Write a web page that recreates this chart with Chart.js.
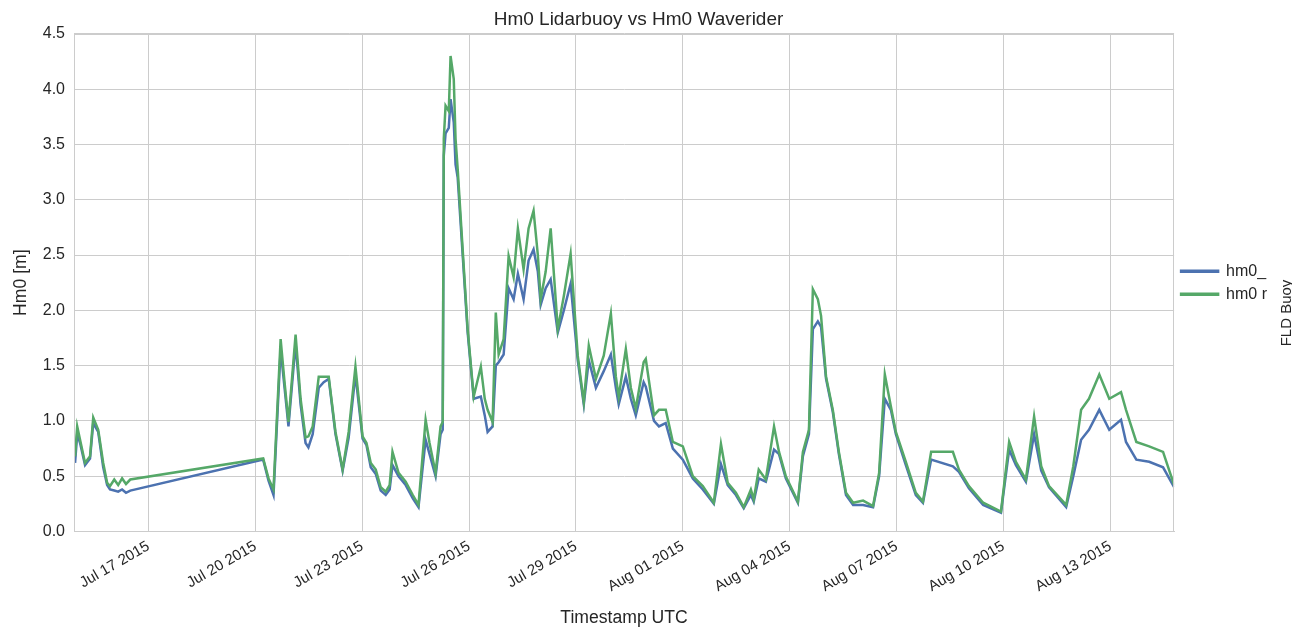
<!DOCTYPE html>
<html>
<head>
<meta charset="utf-8">
<title>Hm0 Lidarbuoy vs Hm0 Waverider</title>
<script src="https://cdn.jsdelivr.net/npm/chart.js@4.4.1/dist/chart.umd.min.js"></script>
<style>
  html, body { margin: 0; padding: 0; background: #fff; }
  #wrap { width: 1292px; height: 629px; position: relative; }
</style>
</head>
<body>
<div id="wrap"><canvas id="line-chart"></canvas></div>
<script>
// time in days after 2015-07-14 00:00 UTC
let timeDays = [0.94, 1.00, 1.08, 1.22, 1.36, 1.45, 1.59, 1.73, 1.84, 1.92, 2.04, 2.15, 2.26, 2.37, 2.49,
  6.22, 6.37, 6.51, 6.71, 6.82, 6.93, 7.13, 7.27, 7.41, 7.49, 7.61, 7.78, 7.92, 8.06, 8.25, 8.45, 8.62, 8.81,
  9.01, 9.12, 9.24, 9.38, 9.52, 9.66, 9.77, 9.85, 10.02, 10.22, 10.42, 10.58, 10.78, 10.89, 11.06, 11.20, 11.26,
  11.29, 11.34, 11.43, 11.48, 11.57, 11.62, 11.68, 11.82, 11.96, 12.13, 12.33, 12.44, 12.52, 12.66, 12.75, 12.83,
  12.97, 13.11, 13.25, 13.37, 13.53, 13.67, 13.81, 13.93, 14.01, 14.15, 14.29, 14.49, 14.66, 14.85, 15.05, 15.22,
  15.36, 15.56, 15.78, 15.98, 16.12, 16.20, 16.40, 16.54, 16.68, 16.90, 16.96, 17.19, 17.33, 17.52, 17.72, 18.00,
  18.28, 18.56, 18.87, 19.07, 19.26, 19.49, 19.71, 19.91, 19.99, 20.13, 20.33, 20.56, 20.70, 20.89, 21.23, 21.37,
  21.54, 21.65, 21.79, 21.88, 22.02, 22.21, 22.38, 22.58, 22.78, 23.06, 23.34, 23.51, 23.67, 23.84, 23.98, 24.26,
  24.54, 24.74, 24.97, 25.58, 25.75, 26.03, 26.43, 26.93, 27.16, 27.35, 27.63, 27.86, 28.06, 28.28, 28.76, 28.96,
  29.18, 29.40, 29.69, 29.97, 30.30, 30.44, 30.73, 31.09, 31.48, 31.79];

let hm0Lidar = [0.62, 0.88, 0.80, 0.60, 0.66, 0.98, 0.90, 0.58, 0.42, 0.38, 0.37, 0.36, 0.38, 0.35, 0.37,
  0.65, 0.46, 0.33, 1.65, 1.30, 0.95, 1.70, 1.15, 0.80, 0.76, 0.88, 1.30, 1.35, 1.38, 0.88, 0.55, 0.85, 1.42,
  0.84, 0.78, 0.58, 0.52, 0.37, 0.33, 0.38, 0.60, 0.50, 0.42, 0.30, 0.22, 0.83, 0.70, 0.50, 0.88, 0.92,
  3.40, 3.60, 3.65, 3.91, 3.70, 3.32, 3.20, 2.50, 1.80, 1.20, 1.22, 1.05, 0.90, 0.95, 1.50, 1.53,
  1.60, 2.20, 2.10, 2.33, 2.10, 2.45, 2.55, 2.35, 2.05, 2.20, 2.28, 1.80, 2.00, 2.24, 1.55, 1.15,
  1.55, 1.30, 1.45, 1.60, 1.30, 1.15, 1.40, 1.20, 1.05, 1.35, 1.31, 1.00, 0.95, 0.98, 0.75, 0.65,
  0.48, 0.38, 0.25, 0.61, 0.42, 0.33, 0.21, 0.33, 0.27, 0.48, 0.45, 0.74, 0.70, 0.48, 0.26, 0.68,
  0.88, 1.83, 1.90, 1.85, 1.38, 1.08, 0.70, 0.33, 0.24, 0.24, 0.22, 0.50, 1.20, 1.10, 0.88, 0.60,
  0.33, 0.26, 0.65, 0.59, 0.54, 0.39, 0.24, 0.17, 0.74, 0.60, 0.45, 0.88, 0.55, 0.40, 0.22, 0.50,
  0.83, 0.92, 1.10, 0.92, 1.01, 0.81, 0.65, 0.63, 0.58, 0.40];

let hm0Waverider = [0.68, 0.95, 0.83, 0.62, 0.68, 1.03, 0.92, 0.62, 0.44, 0.41, 0.47, 0.42, 0.48, 0.43, 0.47,
  0.66, 0.48, 0.38, 1.74, 1.35, 0.99, 1.78, 1.20, 0.85, 0.86, 0.95, 1.40, 1.40, 1.40, 0.90, 0.56, 0.90, 1.49,
  0.86, 0.80, 0.62, 0.56, 0.40, 0.36, 0.42, 0.72, 0.53, 0.45, 0.33, 0.24, 1.01, 0.80, 0.53, 0.95, 0.99,
  3.55, 3.85, 3.80, 4.30, 4.09, 3.55, 3.28, 2.55, 1.83, 1.22, 1.49, 1.20, 1.10, 0.99, 1.98, 1.60,
  1.74, 2.49, 2.30, 2.74, 2.37, 2.74, 2.90, 2.50, 2.10, 2.35, 2.74, 1.83, 2.13, 2.51, 1.59, 1.17,
  1.68, 1.38, 1.59, 1.97, 1.40, 1.22, 1.65, 1.30, 1.11, 1.53, 1.56, 1.05, 1.10, 1.10, 0.81, 0.77,
  0.50, 0.41, 0.26, 0.79, 0.44, 0.35, 0.22, 0.38, 0.29, 0.56, 0.47, 0.95, 0.72, 0.50, 0.27, 0.72,
  0.92, 2.19, 2.10, 1.95, 1.40, 1.10, 0.72, 0.35, 0.26, 0.28, 0.23, 0.53, 1.42, 1.13, 0.90, 0.63,
  0.35, 0.27, 0.72, 0.72, 0.56, 0.41, 0.26, 0.18, 0.81, 0.63, 0.47, 1.04, 0.59, 0.41, 0.24, 0.59,
  1.10, 1.20, 1.42, 1.20, 1.26, 1.10, 0.81, 0.77, 0.72, 0.42];

let tickDays = [3, 6, 9, 12, 15, 18, 21, 24, 27, 30];
let tickLabels = ['Jul 17 2015', 'Jul 20 2015', 'Jul 23 2015', 'Jul 26 2015', 'Jul 29 2015',
  'Aug 01 2015', 'Aug 04 2015', 'Aug 07 2015', 'Aug 10 2015', 'Aug 13 2015'];

let lidarPoints = [];
let waveriderPoints = [];
timeDays.forEach(function (t, i) {
    lidarPoints.push({x: t, y: hm0Lidar[i]});
    waveriderPoints.push({x: t, y: hm0Waverider[i]});
});

let textColor = '#262626';
let gridColor = '#cccccc';
Chart.defaults.font.family = '"Liberation Sans", Arial, sans-serif';
Chart.defaults.color = textColor;

// box around the axes and the side label
let frame = {
    id: 'frame',
    afterDraw: function (chart) {
        let ctx = chart.ctx;
        let a = chart.chartArea;
        ctx.save();
        ctx.strokeStyle = gridColor;
        ctx.lineWidth = 1;
        ctx.strokeRect(Math.round(a.left) + 0.5, Math.round(a.top) + 0.5,
            Math.round(a.right - a.left) - 1, Math.round(a.bottom - a.top) - 1);
        ctx.fillStyle = textColor;
        ctx.font = '15px "Liberation Sans", Arial, sans-serif';
        ctx.translate(1291, 313);
        ctx.rotate(-Math.PI / 2);
        ctx.textAlign = 'center';
        ctx.fillText('FLD Buoy', 0, 0);
        ctx.restore();
    }
};

new Chart(document.getElementById('line-chart'), {
    type: 'line',
    data: {
        datasets: [{
            label: 'hm0_',
            data: lidarPoints,
            borderColor: '#4C72B0',
            backgroundColor: '#4C72B0',
            borderWidth: 2.5,
            pointRadius: 0,
            fill: false,
            order: 1
        }, {
            label: 'hm0 r',
            data: waveriderPoints,
            borderColor: '#55A868',
            backgroundColor: '#55A868',
            borderWidth: 2.5,
            pointRadius: 0,
            fill: false,
            order: 0
        }]
    },
    options: {
        responsive: true,
        maintainAspectRatio: false,
        animation: false,
        devicePixelRatio: 1,
        layout: {padding: {left: 0, right: 15, top: 0, bottom: 0}},
        plugins: {
            title: {
                display: true,
                text: 'Hm0 Lidarbuoy vs Hm0 Waverider',
                color: textColor,
                font: {size: 19, weight: 'normal'},
                padding: {top: 8, bottom: 3}
            },
            legend: {
                position: 'right',
                fullSize: false,
                labels: {
                    boxWidth: 37,
                    boxHeight: 1,
                    padding: 7,
                    color: textColor,
                    font: {size: 16},
                    sort: function (a, b) { return a.datasetIndex - b.datasetIndex; }
                }
            },
            tooltip: {enabled: false}
        },
        scales: {
            x: {
                type: 'linear',
                min: 0.91,
                max: 31.79,
                afterBuildTicks: function (scale) {
                    scale.ticks = tickDays.map(function (d) { return {value: d}; });
                },
                afterFit: function (scale) { scale.height = 97.5; },
                ticks: {
                    autoSkip: false,
                    minRotation: 30,
                    maxRotation: 30,
                    padding: 6,
                    color: textColor,
                    font: {size: 15},
                    callback: function (v) { return tickLabels[tickDays.indexOf(v)]; }
                },
                grid: {color: gridColor, drawTicks: false},
                border: {color: gridColor},
                title: {display: true, text: 'Timestamp UTC', color: textColor, font: {size: 17.6}, padding: {top: 0, bottom: 0}}
            },
            y: {
                min: 0,
                max: 4.5,
                afterFit: function (scale) { scale.width = 74; },
                ticks: {
                    stepSize: 0.5,
                    padding: 9,
                    color: textColor,
                    font: {size: 16},
                    callback: function (v) { return v.toFixed(1); }
                },
                grid: {color: gridColor, drawTicks: false},
                border: {color: gridColor},
                title: {display: true, text: 'Hm0 [m]', color: textColor, font: {size: 17.6}, padding: {top: 11, bottom: 0}}
            }
        }
    },
    plugins: [frame]
});
</script>
</body>
</html>
